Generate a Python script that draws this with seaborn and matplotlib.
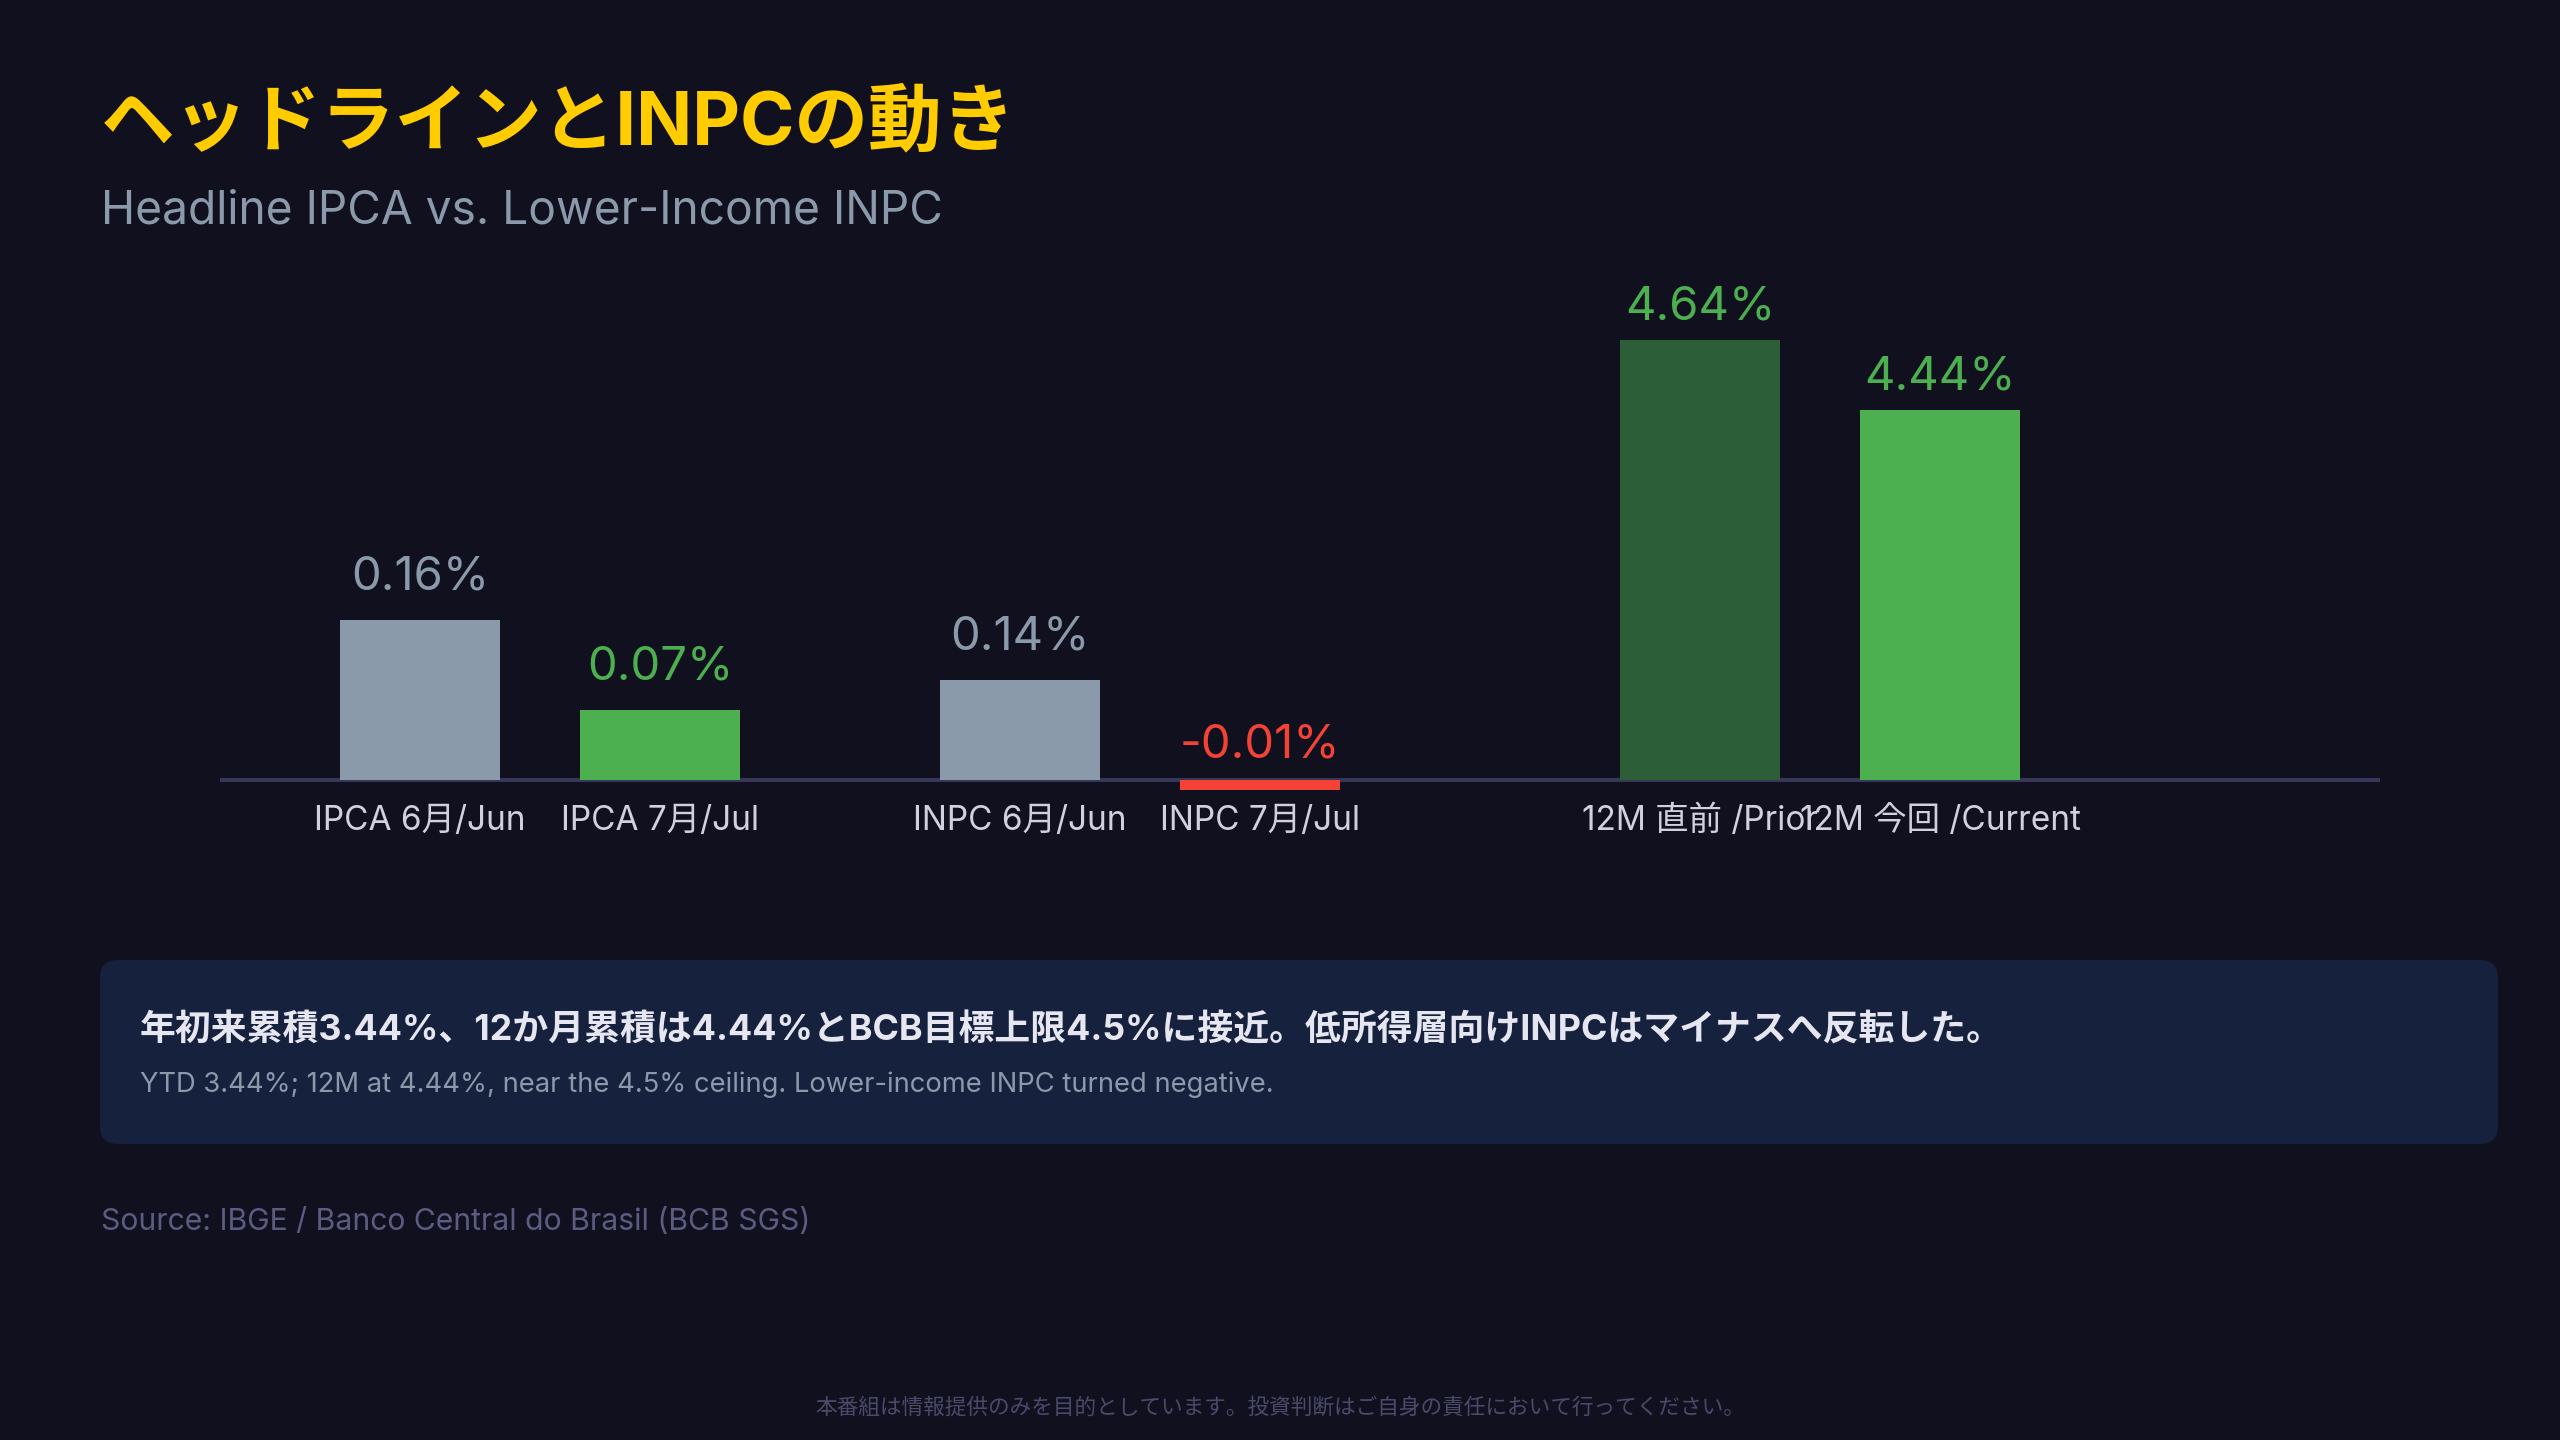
import pandas as pd
import matplotlib.pyplot as plt
import matplotlib.transforms as mtransforms
from matplotlib.patches import FancyBboxPatch
import seaborn as sns

# --- data ---
categories = ["IPCA 6月/Jun", "IPCA 7月/Jul", "INPC 6月/Jun", "INPC 7月/Jul",
              "12M 直前 /Prior", "12M 今回 /Current"]
value_labels = ["0.16%", "0.07%", "0.14%", "-0.01%", "4.64%", "4.44%"]
# bar heights as drawn in the reference (common display scale)
bar_heights = [0.16, 0.07, 0.10, -0.01, 0.44, 0.37]
bar_groups = [0, 0, 1, 1, 2, 2]

title = "ヘッドラインとINPCの動き"
subtitle = "Headline IPCA vs. Lower-Income INPC"
note_jp = "年初来累積3.44%、12か月累積は4.44%とBCB目標上限4.5%に接近。低所得層向けINPCはマイナスへ反転した。"
note_en = "YTD 3.44%; 12M at 4.44%, near the 4.5% ceiling. Lower-income INPC turned negative."
source = "Source: IBGE / Banco Central do Brasil (BCB SGS)"
disclaimer = "本番組は情報提供のみを目的としています。投資判断はご自身の責任において行ってください。"

# --- style ---
BG = "#10101e"
GREY = "#8a9aab"
GREEN = "#4caf50"
DARK_GREEN = "#2c5f37"
RED = "#f44336"
bar_colors = [GREY, GREEN, GREY, RED, DARK_GREEN, GREEN]
label_colors = [GREY, GREEN, GREY, RED, GREEN, GREEN]
label_gap_px = {0: 30, 1: 30, 2: 20}   # gap between bar top and value label, per group

sns.set_theme(style="dark")
plt.rcParams["font.family"] = ["Inter", "Noto Sans CJK JP", "DejaVu Sans"]

W, H = 2560, 1440
fig = plt.figure(figsize=(W / 100, H / 100), dpi=100, facecolor=BG)

# layout: bars are spaced one slot apart inside a group, groups are separated by wider gaps
group_start = [0.0, 2.5, 16 / 3]
df = pd.DataFrame({"cat": categories, "h": bar_heights, "group": bar_groups})
df["slot"] = df.groupby("group").cumcount()
df["x"] = [group_start[g] + s for g, s in zip(df["group"], df["slot"])]

ax_top, ax_bot = 280, 800
ax = fig.add_axes([220 / W, 1 - ax_bot / H, 2160 / W, (ax_bot - ax_top) / H])
ax.set_facecolor(BG)

ax.axhline(0, color="#37375a", lw=2.9, zorder=1)
sns.barplot(data=df, x="x", y="h", hue="cat", palette=dict(zip(categories, bar_colors)),
            native_scale=True, width=2 / 3, dodge=False, legend=False,
            saturation=1, linewidth=0, ax=ax, zorder=2)

ax.set_xlim(-5 / 6, 9 - 5 / 6)
ax.set_ylim(-(ax_bot - 780) / 1000, (780 - ax_top) / 1000)
for s in ax.spines.values():
    s.set_visible(False)
ax.set_xticks([])
ax.set_yticks([])
ax.set_xlabel("")
ax.set_ylabel("")
ax.grid(False)

# value labels above bars (negative bars get their label just above the zero line)
for x, h, g, lab, c in zip(df["x"], df["h"], df["group"], value_labels, label_colors):
    gap = label_gap_px[g] if h >= 0 else 23
    ax.annotate(lab, (x, max(h, 0)), xytext=(0, gap * 0.72), textcoords="offset points",
                ha="center", va="baseline", fontsize=34, color=c)

# category labels under the baseline
tr = mtransforms.blended_transform_factory(ax.transData, fig.transFigure)
for x, cat in zip(df["x"], df["cat"]):
    ax.text(x, 1 - 830 / H, cat, transform=tr, ha="center", va="baseline",
            fontsize=24, color="#d0d0e0")

# titles
fig.text(101 / W, 1 - 144 / H, title, fontsize=53, fontweight="bold", color="#ffcc00", va="baseline")
fig.text(101 / W, 1 - 223 / H, subtitle, fontsize=33.2, color=GREY, va="baseline")

# takeaway box
box = FancyBboxPatch((100, H - 1144), 2398, 184, boxstyle="round,pad=0,rounding_size=18",
                     transform=None, facecolor="#16213e", edgecolor="none")
fig.patches.append(box)
fig.text(140 / W, 1 - 1040 / H, note_jp, fontsize=25.8, fontweight="bold", color="#e6e6f0", va="baseline")
fig.text(140 / W, 1 - 1092 / H, note_en, fontsize=19.7, color=GREY, va="baseline")

fig.text(101 / W, 1 - 1230 / H, source, fontsize=21.7, color="#5c5c82", va="baseline")
fig.text(0.5, 1 - 1414 / H, disclaimer, fontsize=15.6, color="#4a4a6a", ha="center", va="baseline")

fig.savefig("out.png", dpi=100, facecolor=BG)
